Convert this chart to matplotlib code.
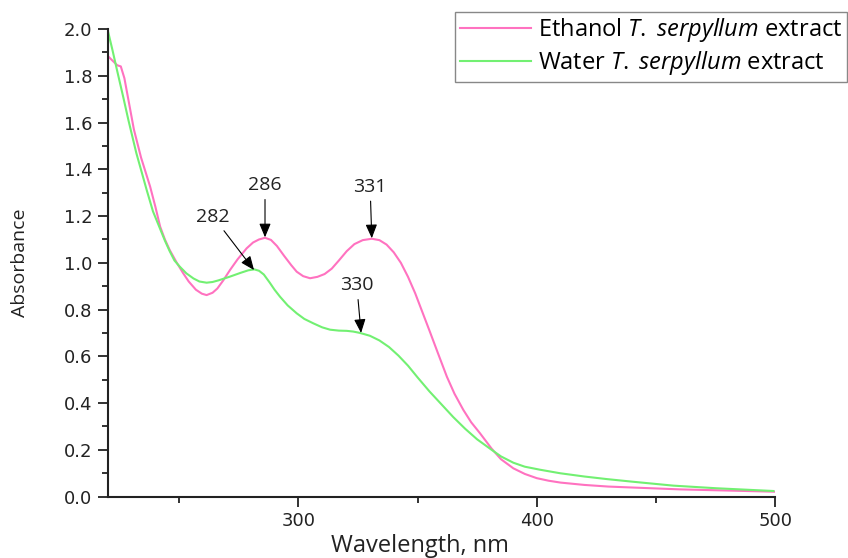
import matplotlib
matplotlib.use("Agg")
import matplotlib.pyplot as plt
from matplotlib.ticker import MultipleLocator

plt.rcParams['font.family'] = ['DejaVu Sans']
plt.rcParams['mathtext.fontset'] = 'custom'
plt.rcParams['mathtext.rm'] = 'Open Sans'
plt.rcParams['mathtext.it'] = 'Open Sans:italic'

# ethanol extract (pink)
eth_nm = [220, 222, 224, 225.5, 227, 229, 231, 234, 237.8, 240, 242, 244, 246, 249,
          251.7, 254, 257, 259.5, 261.5, 264, 266, 268.5, 271.3, 274.5, 278.3, 281,
          283.5, 286, 288.5, 291, 294, 297, 299.3, 302, 304.9, 308, 311, 314, 317,
          320.3, 323.5, 327, 330.8, 334, 337, 340, 343, 346, 349, 352, 355, 358.5,
          362.3, 365.5, 369.2, 372.5, 376.2, 381.1, 385, 390.2, 395, 400, 405, 410,
          420, 430, 445, 460, 480, 500]
eth_abs = [1.885, 1.865, 1.845, 1.84, 1.79, 1.68, 1.57, 1.45, 1.326, 1.24, 1.155, 1.10,
           1.055, 1.0, 0.955, 0.92, 0.885, 0.868, 0.862, 0.872, 0.89, 0.925, 0.969,
           1.015, 1.062, 1.087, 1.10, 1.107, 1.098, 1.072, 1.03, 0.99, 0.962, 0.943,
           0.934, 0.94, 0.952, 0.975, 1.01, 1.05, 1.08, 1.097, 1.103, 1.097, 1.078,
           1.045, 1.0, 0.94, 0.87, 0.79, 0.71, 0.615, 0.513, 0.44, 0.371, 0.318, 0.271,
           0.205, 0.16, 0.121, 0.097, 0.079, 0.068, 0.06, 0.05, 0.043, 0.037, 0.031,
           0.026, 0.021]

# water extract (green)
wat_nm = [220, 222, 224, 226.5, 228.7, 232, 236.4, 239, 242, 244, 246, 248, 250.3, 253,
          256, 258.5, 261.5, 264, 266.5, 271.3, 276, 279, 281.5, 283.5, 285.5, 288, 290,
          292.3, 295.5, 299.3, 302.5, 306.3, 310, 313.3, 317, 320.3, 323, 325.9, 330,
          334, 338, 342, 346, 350, 355, 360, 365, 370, 375, 381.1, 385, 390.2, 395,
          401.4, 409.8, 420, 429.4, 440, 457.3, 475, 499.3]
wat_abs = [1.996, 1.91, 1.82, 1.71, 1.61, 1.47, 1.31, 1.22, 1.145, 1.095, 1.05, 1.01,
           0.983, 0.955, 0.933, 0.92, 0.915, 0.918, 0.925, 0.941, 0.958, 0.968, 0.972,
           0.966, 0.95, 0.915, 0.885, 0.855, 0.818, 0.784, 0.76, 0.741, 0.724, 0.714,
           0.71, 0.709, 0.706, 0.70, 0.688, 0.668, 0.64, 0.603, 0.56, 0.51, 0.45, 0.395,
           0.34, 0.29, 0.245, 0.20, 0.172, 0.145, 0.128, 0.115, 0.10, 0.086, 0.075,
           0.064, 0.047, 0.036, 0.024]

# peak labels: text, arrow tip (nm, abs), text position (nm, abs)
peak_text = ['286', '331', '282', '330']
peak_xy = [(286, 1.109), (330.8, 1.105), (281.4, 0.969), (326.3, 0.70)]
peak_text_xy = [(286, 1.333), (330.1, 1.326), (264.3, 1.197), (324.5, 0.905)]

PINK = '#ff72c0'
GREEN = '#72f072'
INK = '#222222'

fig = plt.figure(figsize=(8.48, 5.58), dpi=100)
ax = fig.add_axes([0.127, 0.110, 0.787, 0.838])

ax.plot(eth_nm, eth_abs, color=PINK, lw=1.5,
        label=r'Ethanol $\mathit{T.}$ $\mathit{serpyllum}$ extract')
ax.plot(wat_nm, wat_abs, color=GREEN, lw=1.5,
        label=r'Water $\mathit{T.}$ $\mathit{serpyllum}$ extract')

for txt, xy, xyt in zip(peak_text, peak_xy, peak_text_xy):
    ax.annotate(txt, xy=xy, xytext=xyt, ha='center', va='center',
                fontsize=14, family='Open Sans', color=INK,
                arrowprops=dict(arrowstyle='-|>,head_width=0.25,head_length=0.6',
                                color='black', lw=0.8, shrinkA=2, shrinkB=0))

ax.set_xlim(220, 500)
ax.set_ylim(0, 2.0)
ax.xaxis.set_major_locator(MultipleLocator(100))
ax.xaxis.set_minor_locator(MultipleLocator(50))
ax.yaxis.set_major_locator(MultipleLocator(0.2))
ax.yaxis.set_minor_locator(MultipleLocator(0.1))

for s in ['top', 'right']:
    ax.spines[s].set_visible(False)
for s in ['left', 'bottom']:
    ax.spines[s].set_linewidth(1.5)
    ax.spines[s].set_color(INK)
ax.tick_params(which='major', direction='out', length=7, width=1.3,
               labelsize=13, colors=INK, pad=4)
ax.tick_params(which='minor', direction='out', length=4, width=1.3, colors=INK)

ax.set_xlabel('Wavelength, nm', family='Open Sans', fontsize=17, color=INK)
ax.set_ylabel('Absorbance', family='Open Sans', fontsize=14, color=INK)
ax.xaxis.set_label_coords(0.468, -0.08)
ax.yaxis.set_label_coords(-0.118, 0.5)

leg = ax.legend(loc='upper right', bbox_to_anchor=(847 / 848, 1 - 11.7 / 558),
                bbox_transform=fig.transFigure, borderaxespad=0,
                prop={'family': 'Open Sans', 'size': 17}, fancybox=False,
                framealpha=1, edgecolor='#888888', handlelength=3.0,
                handletextpad=0.3, borderpad=0.2, labelspacing=0.2)
leg.get_frame().set_linewidth(1.0)

fig.savefig('out.png', dpi=100)
